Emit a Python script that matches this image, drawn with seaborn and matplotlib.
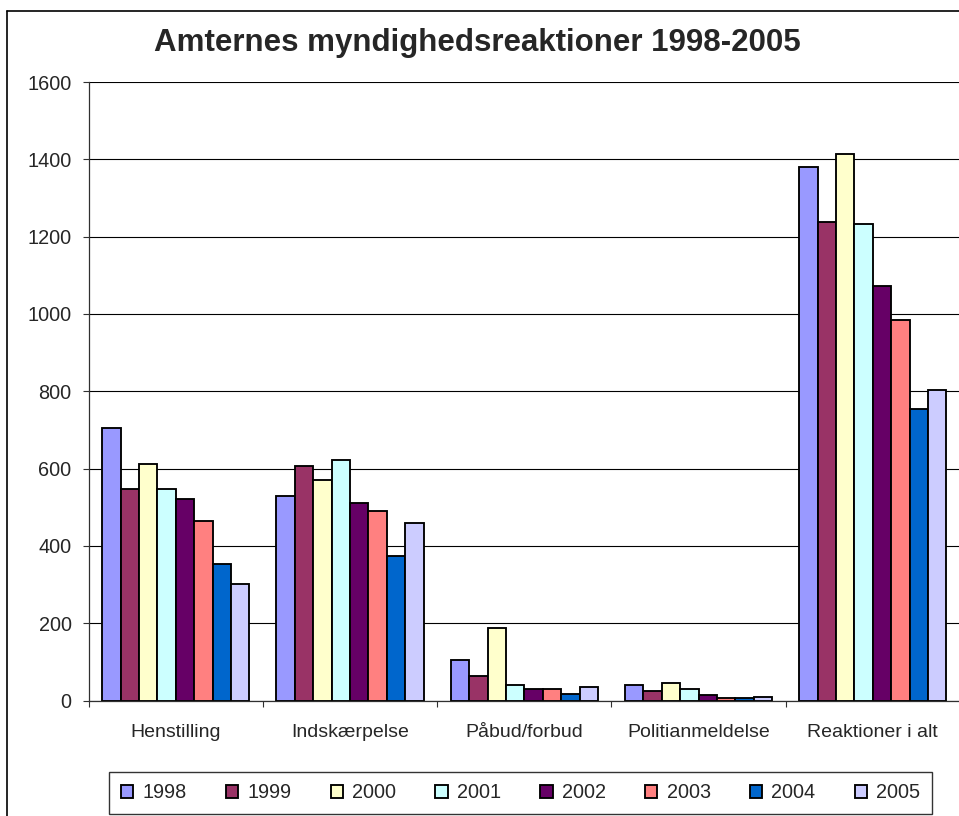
import pandas as pd
import matplotlib
matplotlib.use("Agg")
import matplotlib.pyplot as plt
from matplotlib.lines import Line2D
import seaborn as sns

# Reactions by county authorities, per category and year
categories = ["Henstilling", "Indskærpelse", "Påbud/forbud", "Politianmeldelse", "Reaktioner i alt"]
years = ["1998", "1999", "2000", "2001", "2002", "2003", "2004", "2005"]

henstilling = [705, 547, 611, 546, 521, 464, 352, 302]
indskaerpelse = [529, 606, 570, 622, 510, 490, 373, 458]
paabud_forbud = [105, 64, 187, 39, 29, 29, 18, 34]
politianmeldelse = [39, 24, 45, 30, 13, 7, 7, 9]
reaktioner_i_alt = [1381, 1239, 1415, 1233, 1073, 985, 754, 804]

year_colors = ["#9999FF", "#993366", "#FFFFCC", "#CCFFFF",
               "#660066", "#FF8080", "#0066CC", "#CCCCFF"]

y_ticks = [0, 200, 400, 600, 800, 1000, 1200, 1400, 1600]
title = "Amternes myndighedsreaktioner 1998-2005"

series = [henstilling, indskaerpelse, paabud_forbud, politianmeldelse, reaktioner_i_alt]
rows = []
for cat, vals in zip(categories, series):
    for yr, v in zip(years, vals):
        rows.append({"kategori": cat, "år": yr, "antal": v})
df = pd.DataFrame(rows)

sns.set_style("white")
plt.rcParams["font.family"] = ["Liberation Sans", "DejaVu Sans"]

W, H = 959, 816
fig = plt.figure(figsize=(W / 100, H / 100), dpi=100)
x0, x1, y_bot, y_top = 88.7, 960.0, 700.5, 82.0
ax = fig.add_axes([x0 / W, (H - y_bot) / H, (x1 - x0) / W, (y_bot - y_top) / H])

sns.barplot(data=df, x="kategori", y="antal", hue="år", order=categories,
            hue_order=years, palette=year_colors, saturation=1, width=0.845,
            edgecolor="black", linewidth=1.35, errorbar=None, ax=ax)

ax.set_xlim(-0.5, 4.5)
ax.set_ylim(0, 1600)
ax.set_yticks(y_ticks)
ax.set_yticklabels([str(t) for t in y_ticks])
ax.set_xlabel("")
ax.set_ylabel("")

# Category labels centred under the groups, tick marks between the groups
ax.set_xticks([-0.5, 0.5, 1.5, 2.5, 3.5, 4.5])
ax.set_xticklabels([])
ax.set_xticks(range(len(categories)), minor=True)
ax.set_xticklabels(categories, minor=True)
ax.tick_params(axis="x", which="major", bottom=True, length=4.3, width=0.8,
               direction="out", color="#303030")
ax.tick_params(axis="x", which="minor", bottom=True, length=0, pad=17, labelsize=14)
ax.tick_params(axis="y", left=True, length=4.3, width=0.8, direction="out",
               color="#303030", pad=8, labelsize=14.3)

ax.yaxis.grid(True, color="black", linewidth=0.8)
ax.set_axisbelow(True)
for side in ["top", "right"]:
    ax.spines[side].set_visible(False)
for side in ["left", "bottom"]:
    ax.spines[side].set_color("#303030")
    ax.spines[side].set_linewidth(0.9)

handles, labels = ax.get_legend_handles_labels()
if ax.get_legend() is not None:
    ax.get_legend().remove()
leg = fig.legend(handles, labels, loc="center",
                 bbox_to_anchor=(520.5 / W, (H - 793) / H), ncol=8,
                 frameon=True, fancybox=False, shadow=False, fontsize=14.3,
                 handlelength=0.62, handleheight=0.62, handletextpad=0.46,
                 columnspacing=1.98, borderpad=0.6)
leg.get_frame().set_edgecolor("black")
leg.get_frame().set_linewidth(1.0)

fig.text(477.5 / W, (H - 43) / H, title, ha="center", va="center",
         fontsize=22.5, fontweight="bold")

# Chart area border
bx, by = 7 / W, (H - 11) / H
fig.add_artist(Line2D([bx, bx], [0, by], transform=fig.transFigure, color="black", lw=1.2))
fig.add_artist(Line2D([bx, 1.0], [by, by], transform=fig.transFigure, color="black", lw=1.2))

fig.savefig("out.png", dpi=100)
